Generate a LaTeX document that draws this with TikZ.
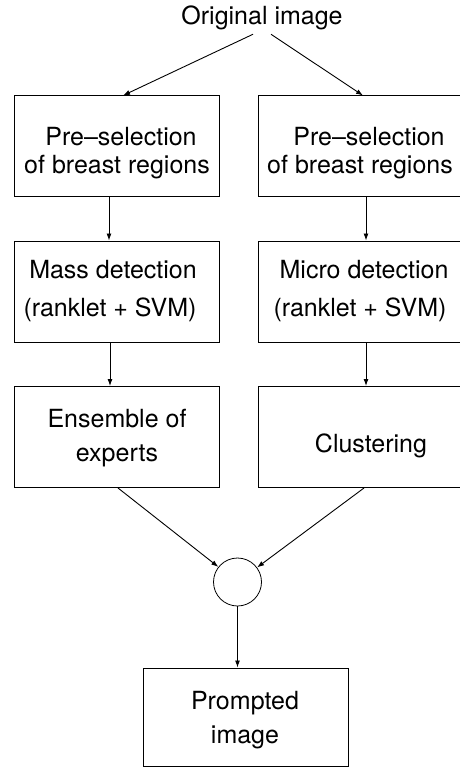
\documentclass[tikz,border=0pt]{standalone}
\usepackage{fontspec}
\setmainfont{TeX Gyre Heros}
\usetikzlibrary{arrows.meta}

\tikzset{
  box/.style={draw, line width=1pt, minimum width=205pt, minimum height=101pt, inner sep=0pt},
  lbl/.style={font=\fontsize{25}{30}\selectfont, inner sep=0pt},
  arr/.style={-{Latex[length=7pt,width=5pt]}, line width=0.9pt},
}

\begin{document}
\begin{tikzpicture}[x=1pt,y=-1pt]
\useasboundingbox (0,0) rectangle (459,767);

% Draw the boxes
\node[box] (preL) at (116.5,146.5) {};
\node[box] (preR) at (360.5,146.5) {};
\node[box] (detL) at (116.5,291.5) {};
\node[box] (detR) at (360.5,291.5) {};
\node[box] (ens) at (116.5,437) {};
\node[box] (clu) at (360.5,437) {};
\node[draw, circle, minimum size=48pt, inner sep=0pt, line width=0.8pt] (join) at (237.5,582) {};
\node[box, minimum height=98pt] (prom) at (245.5,717) {};

% Insert the texts
\node[lbl] (orig) at (262,18) {Original image};
\node[lbl] (preL1) at (121,137) {Pre–selection};
\node[lbl] (preL2) at (117,167) {of breast regions};
\node[lbl] (preR1) at (369,137) {Pre–selection};
\node[lbl] (preR2) at (360,167) {of breast regions};
\node[lbl] (detL1) at (113,270) {Mass detection};
\node[lbl] (detL2) at (110,310) {(ranklet + SVM)};
\node[lbl] (detR1) at (364,270) {Micro detection};
\node[lbl] (detR2) at (360,310) {(ranklet + SVM)};
\node[lbl] (ens1) at (117,419) {Ensemble of};
\node[lbl] (ens2) at (117,456) {experts};
\node[lbl] (clu1) at (371,446) {Clustering};
\node[lbl] (prom1) at (245,703) {Prompted};
\node[lbl] (prom2) at (245,737) {image};

% Draw the arrows
\draw[arr] ([xshift=-9pt,yshift=-4pt]orig.south) -- ([xshift=6.5pt]preL.north);
\draw[arr] ([xshift=9pt,yshift=-4pt]orig.south) -- ([xshift=2.5pt]preR.north);
\draw[arr] ([xshift=-7.5pt]preL.south) -- ([xshift=-7.5pt]detL.north);
\draw[arr] ([xshift=5.5pt]preR.south) -- ([xshift=5.5pt]detR.north);
\draw[arr] ([xshift=-6.5pt]detL.south) -- ([xshift=-6.5pt]ens.north);
\draw[arr] ([xshift=5.5pt]detR.south) -- ([xshift=5.5pt]clu.north);
\draw[arr] ([xshift=1.5pt]ens.south) -- (join);
\draw[arr] ([xshift=3.5pt]clu.south) -- (join);
\draw[arr] (join) -- (join |- prom.north);
\end{tikzpicture}
\end{document}
